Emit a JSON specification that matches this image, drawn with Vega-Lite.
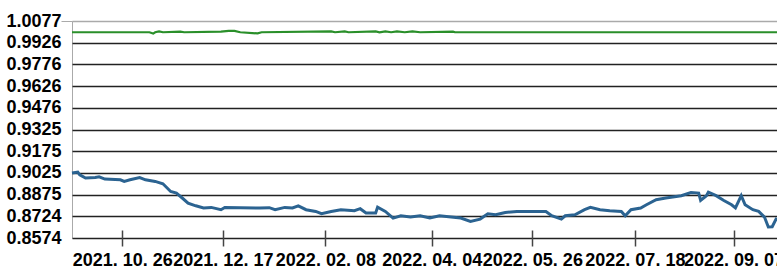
{
  "$schema": "https://vega.github.io/schema/vega-lite/v6.json",
  "width": 706,
  "height": 217,
  "autosize": "none",
  "padding": {"left": 72, "top": 21, "right": 0, "bottom": 31},
  "background": "white",
  "config": {"view": {"stroke": "#aaaaaa", "strokeWidth": 1}, "font": "Liberation Sans"},
  "data": {"values": [
    {"date": "2021-09-30T00:00", "series": "fund", "value": 0.9024},
    {"date": "2021-10-03T00:00", "series": "fund", "value": 0.9031},
    {"date": "2021-10-04T00:00", "series": "fund", "value": 0.9012},
    {"date": "2021-10-07T00:00", "series": "fund", "value": 0.8989},
    {"date": "2021-10-12T00:00", "series": "fund", "value": 0.8993},
    {"date": "2021-10-14T00:00", "series": "fund", "value": 0.8998},
    {"date": "2021-10-17T00:00", "series": "fund", "value": 0.8982},
    {"date": "2021-10-25T00:00", "series": "fund", "value": 0.8977},
    {"date": "2021-10-27T00:00", "series": "fund", "value": 0.8966},
    {"date": "2021-10-30T00:00", "series": "fund", "value": 0.8977},
    {"date": "2021-11-04T00:00", "series": "fund", "value": 0.8993},
    {"date": "2021-11-07T00:00", "series": "fund", "value": 0.8977},
    {"date": "2021-11-12T00:00", "series": "fund", "value": 0.8966},
    {"date": "2021-11-16T00:00", "series": "fund", "value": 0.8950},
    {"date": "2021-11-20T00:00", "series": "fund", "value": 0.8896},
    {"date": "2021-11-23T00:00", "series": "fund", "value": 0.8885},
    {"date": "2021-11-26T00:00", "series": "fund", "value": 0.8851},
    {"date": "2021-11-29T00:00", "series": "fund", "value": 0.8816},
    {"date": "2021-12-03T00:00", "series": "fund", "value": 0.8797},
    {"date": "2021-12-07T00:00", "series": "fund", "value": 0.8782},
    {"date": "2021-12-11T00:00", "series": "fund", "value": 0.8786},
    {"date": "2021-12-16T00:00", "series": "fund", "value": 0.8770},
    {"date": "2021-12-18T00:00", "series": "fund", "value": 0.8786},
    {"date": "2022-01-05T00:00", "series": "fund", "value": 0.8782},
    {"date": "2022-01-10T00:00", "series": "fund", "value": 0.8784},
    {"date": "2022-01-13T00:00", "series": "fund", "value": 0.8770},
    {"date": "2022-01-18T00:00", "series": "fund", "value": 0.8786},
    {"date": "2022-01-22T00:00", "series": "fund", "value": 0.8782},
    {"date": "2022-01-25T00:00", "series": "fund", "value": 0.8797},
    {"date": "2022-01-29T00:00", "series": "fund", "value": 0.8770},
    {"date": "2022-02-03T00:00", "series": "fund", "value": 0.8758},
    {"date": "2022-02-06T00:00", "series": "fund", "value": 0.8742},
    {"date": "2022-02-11T00:00", "series": "fund", "value": 0.8758},
    {"date": "2022-02-16T00:00", "series": "fund", "value": 0.8770},
    {"date": "2022-02-23T00:00", "series": "fund", "value": 0.8763},
    {"date": "2022-02-26T00:00", "series": "fund", "value": 0.8777},
    {"date": "2022-03-01T00:00", "series": "fund", "value": 0.8747},
    {"date": "2022-03-06T00:00", "series": "fund", "value": 0.8747},
    {"date": "2022-03-07T00:00", "series": "fund", "value": 0.8788},
    {"date": "2022-03-11T00:00", "series": "fund", "value": 0.8758},
    {"date": "2022-03-15T00:00", "series": "fund", "value": 0.8712},
    {"date": "2022-03-19T00:00", "series": "fund", "value": 0.8728},
    {"date": "2022-03-24T00:00", "series": "fund", "value": 0.8719},
    {"date": "2022-03-29T00:00", "series": "fund", "value": 0.8728},
    {"date": "2022-04-03T00:00", "series": "fund", "value": 0.8712},
    {"date": "2022-04-08T00:00", "series": "fund", "value": 0.8728},
    {"date": "2022-04-14T00:00", "series": "fund", "value": 0.8719},
    {"date": "2022-04-19T00:00", "series": "fund", "value": 0.8712},
    {"date": "2022-04-24T00:00", "series": "fund", "value": 0.8689},
    {"date": "2022-04-29T00:00", "series": "fund", "value": 0.8705},
    {"date": "2022-05-03T00:00", "series": "fund", "value": 0.8742},
    {"date": "2022-05-07T00:00", "series": "fund", "value": 0.8735},
    {"date": "2022-05-12T00:00", "series": "fund", "value": 0.8751},
    {"date": "2022-05-18T00:00", "series": "fund", "value": 0.8758},
    {"date": "2022-06-02T00:00", "series": "fund", "value": 0.8758},
    {"date": "2022-06-05T00:00", "series": "fund", "value": 0.8728},
    {"date": "2022-06-10T00:00", "series": "fund", "value": 0.8705},
    {"date": "2022-06-12T00:00", "series": "fund", "value": 0.8728},
    {"date": "2022-06-17T00:00", "series": "fund", "value": 0.8735},
    {"date": "2022-06-22T00:00", "series": "fund", "value": 0.8770},
    {"date": "2022-06-25T00:00", "series": "fund", "value": 0.8786},
    {"date": "2022-06-30T00:00", "series": "fund", "value": 0.8770},
    {"date": "2022-07-05T00:00", "series": "fund", "value": 0.8763},
    {"date": "2022-07-11T00:00", "series": "fund", "value": 0.8758},
    {"date": "2022-07-13T00:00", "series": "fund", "value": 0.8728},
    {"date": "2022-07-16T00:00", "series": "fund", "value": 0.8770},
    {"date": "2022-07-21T00:00", "series": "fund", "value": 0.8782},
    {"date": "2022-07-24T00:00", "series": "fund", "value": 0.8804},
    {"date": "2022-07-29T00:00", "series": "fund", "value": 0.8839},
    {"date": "2022-08-03T00:00", "series": "fund", "value": 0.8851},
    {"date": "2022-08-11T00:00", "series": "fund", "value": 0.8867},
    {"date": "2022-08-16T00:00", "series": "fund", "value": 0.8889},
    {"date": "2022-08-20T00:00", "series": "fund", "value": 0.8885},
    {"date": "2022-08-21T00:00", "series": "fund", "value": 0.8834},
    {"date": "2022-08-24T00:00", "series": "fund", "value": 0.8867},
    {"date": "2022-08-25T00:00", "series": "fund", "value": 0.8892},
    {"date": "2022-08-29T00:00", "series": "fund", "value": 0.8867},
    {"date": "2022-09-02T00:00", "series": "fund", "value": 0.8834},
    {"date": "2022-09-06T00:00", "series": "fund", "value": 0.8804},
    {"date": "2022-09-08T00:00", "series": "fund", "value": 0.8782},
    {"date": "2022-09-11T00:00", "series": "fund", "value": 0.8867},
    {"date": "2022-09-13T00:00", "series": "fund", "value": 0.8804},
    {"date": "2022-09-17T00:00", "series": "fund", "value": 0.8770},
    {"date": "2022-09-20T00:00", "series": "fund", "value": 0.8758},
    {"date": "2022-09-23T00:00", "series": "fund", "value": 0.8719},
    {"date": "2022-09-25T00:00", "series": "fund", "value": 0.8650},
    {"date": "2022-09-27T00:00", "series": "fund", "value": 0.8652},
    {"date": "2022-09-29T00:00", "series": "fund", "value": 0.8705},
    {"date": "2022-09-30T00:00", "series": "fund", "value": 0.8700},
    {"date": "2021-09-30T00:00", "series": "bench", "value": 0.9999},
    {"date": "2021-11-09T00:00", "series": "bench", "value": 0.9999},
    {"date": "2021-11-11T00:00", "series": "bench", "value": 0.9990},
    {"date": "2021-11-12T00:00", "series": "bench", "value": 0.9999},
    {"date": "2021-11-14T00:00", "series": "bench", "value": 1.0005},
    {"date": "2021-11-16T00:00", "series": "bench", "value": 0.9999},
    {"date": "2021-11-25T00:00", "series": "bench", "value": 1.0003},
    {"date": "2021-11-27T00:00", "series": "bench", "value": 0.9999},
    {"date": "2021-12-16T00:00", "series": "bench", "value": 1.0003},
    {"date": "2021-12-20T00:00", "series": "bench", "value": 1.0008},
    {"date": "2021-12-23T00:00", "series": "bench", "value": 1.0008},
    {"date": "2021-12-26T00:00", "series": "bench", "value": 0.9999},
    {"date": "2022-01-04T00:00", "series": "bench", "value": 0.9991},
    {"date": "2022-01-06T00:00", "series": "bench", "value": 0.9999},
    {"date": "2022-02-11T00:00", "series": "bench", "value": 1.0005},
    {"date": "2022-02-13T00:00", "series": "bench", "value": 0.9999},
    {"date": "2022-02-18T00:00", "series": "bench", "value": 1.0005},
    {"date": "2022-02-20T00:00", "series": "bench", "value": 0.9999},
    {"date": "2022-03-06T00:00", "series": "bench", "value": 1.0005},
    {"date": "2022-03-08T00:00", "series": "bench", "value": 0.9999},
    {"date": "2022-03-11T00:00", "series": "bench", "value": 1.0005},
    {"date": "2022-03-14T00:00", "series": "bench", "value": 0.9999},
    {"date": "2022-03-17T00:00", "series": "bench", "value": 1.0005},
    {"date": "2022-03-21T00:00", "series": "bench", "value": 0.9999},
    {"date": "2022-03-25T00:00", "series": "bench", "value": 1.0005},
    {"date": "2022-03-29T00:00", "series": "bench", "value": 0.9999},
    {"date": "2022-04-15T00:00", "series": "bench", "value": 1.0003},
    {"date": "2022-04-16T00:00", "series": "bench", "value": 0.9999},
    {"date": "2022-09-30T00:00", "series": "bench", "value": 0.9999}
  ]},
  "mark": {"type": "line"},
  "encoding": {
    "x": {
      "field": "date", "type": "temporal",
      "scale": {"domain": [{"year": 2021, "month": 9, "date": 30}, {"year": 2022, "month": 9, "date": 30}]},
      "axis": {
        "values": [
          {"year": 2021, "month": 10, "date": 26},
          {"year": 2021, "month": 12, "date": 17},
          {"year": 2022, "month": 2, "date": 8},
          {"year": 2022, "month": 4, "date": 4},
          {"year": 2022, "month": 5, "date": 26},
          {"year": 2022, "month": 7, "date": 18},
          {"year": 2022, "month": 9, "date": 7}
        ],
        "format": "%Y. %m. %d",
        "offset": -8,
        "tickSize": 16,
        "tickColor": "#444444",
        "tickWidth": 1.5,
        "domain": false,
        "grid": false,
        "labelFont": "Liberation Sans",
        "labelFontSize": 18,
        "labelFontWeight": "bold",
        "labelColor": "black",
        "labelPadding": 5,
        "labelOverlap": false,
        "labelFlush": false,
        "labelBound": false,
        "title": null
      }
    },
    "y": {
      "field": "value", "type": "quantitative",
      "scale": {"domain": [0.8574, 1.0077], "nice": false, "zero": false},
      "axis": {
        "values": [0.8574, 0.8724, 0.8875, 0.9025, 0.9175, 0.9325, 0.9476, 0.9626, 0.9776, 0.9926, 1.0077],
        "format": ".4f",
        "grid": true,
        "gridColor": {"condition": {"test": "datum.value > 1.007", "value": "#aaaaaa"}, "value": "#222222"},
        "gridWidth": 1.5,
        "domain": false,
        "ticks": true,
        "tickSize": 11,
        "tickColor": {"condition": {"test": "datum.value > 1.007", "value": "#aaaaaa"}, "value": "transparent"},
        "labelFont": "Liberation Sans",
        "labelFontSize": 18,
        "labelFontWeight": "bold",
        "labelColor": "black",
        "labelPadding": 0,
        "labelOverlap": false,
        "labelBound": false,
        "title": null
      }
    },
    "color": {
      "field": "series", "type": "nominal",
      "scale": {"domain": ["fund", "bench"], "range": ["#2b6391", "#2a8f2a"]},
      "legend": null
    },
    "strokeWidth": {
      "field": "series", "type": "nominal",
      "scale": {"domain": ["fund", "bench"], "range": [3, 2.2]},
      "legend": null
    }
  }
}
